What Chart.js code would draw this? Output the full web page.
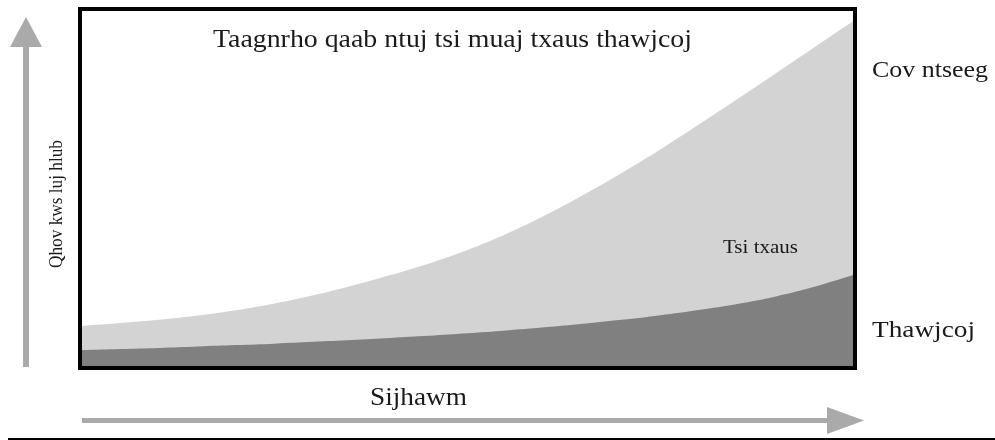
<!DOCTYPE html>
<html>
<head>
<meta charset="utf-8">
<script src="https://cdn.jsdelivr.net/npm/chart.js@4/dist/chart.umd.min.js"></script>
<style>
  html, body { margin: 0; padding: 0; background: #ffffff; }
  #wrap { width: 995px; height: 440px; }
</style>
</head>
<body>
<div id="wrap"><canvas id="growthChart" width="995" height="440"></canvas></div>
<script>
// Time steps along the x axis
const timeSteps = ['0', '1', '2', '3', '4', '5', '6', '7', '8', '9', '10',
                   '11', '12', '13', '14', '15', '16', '17', '18', '19', '20'];

// Total believers (top of the light grey area)
const believers = [11.3, 12.1, 13.0, 14.2, 15.7, 17.6, 19.9, 22.6, 25.6, 28.9, 32.7,
                   37.2, 42.4, 48.2, 54.4, 61.0, 68.0, 75.2, 82.5, 89.8, 97.1];

// Leaders (dark grey area)
const leaders = [4.5, 4.8, 5.1, 5.5, 5.9, 6.3, 6.8, 7.3, 7.9, 8.5, 9.2,
                 10.0, 10.9, 11.9, 13.0, 14.3, 15.8, 17.5, 19.6, 22.3, 25.6];

const serif = '"Liberation Serif", "Times New Roman", serif';
const inkColor = '#1a1a1a';
const arrowColor = '#aaaaaa';

// draw text squeezed/stretched to a measured width
function fitText(ctx, text, left, baseline, size, width) {
    ctx.font = size + 'px ' + serif;
    const w = ctx.measureText(text).width;
    ctx.save();
    ctx.translate(left, baseline);
    ctx.scale(width / w, 1);
    ctx.textAlign = 'left';
    ctx.textBaseline = 'alphabetic';
    ctx.fillText(text, 0, 0);
    ctx.restore();
}

const decorations = {
    id: 'decorations',
    afterDraw(chart) {
        const ctx = chart.ctx;
        const area = chart.chartArea;
        ctx.save();

        // frame around the plot
        ctx.strokeStyle = '#000000';
        ctx.lineWidth = 4;
        ctx.strokeRect(area.left - 2, area.top - 2, area.right - area.left + 4, area.bottom - area.top + 4);

        // vertical arrow
        ctx.fillStyle = arrowColor;
        ctx.fillRect(23, 46, 6, 321);
        ctx.beginPath();
        ctx.moveTo(10, 47);
        ctx.lineTo(42, 47);
        ctx.lineTo(26, 17);
        ctx.closePath();
        ctx.fill();

        // horizontal arrow
        ctx.fillRect(82, 418, 746, 5);
        ctx.beginPath();
        ctx.moveTo(827, 407);
        ctx.lineTo(827, 434);
        ctx.lineTo(864, 420.5);
        ctx.closePath();
        ctx.fill();

        // rule at the bottom
        ctx.fillStyle = '#000000';
        ctx.fillRect(8, 438, 987, 2);

        // texts
        ctx.fillStyle = inkColor;
        fitText(ctx, 'Taagnrho qaab ntuj tsi muaj txaus thawjcoj', 213, 47, 26, 479);
        fitText(ctx, 'Cov ntseeg', 872, 77, 24, 116);
        fitText(ctx, 'Thawjcoj', 872, 337, 24, 103);
        fitText(ctx, 'Tsi txaus', 723, 253, 18, 75);
        fitText(ctx, 'Sijhawm', 370, 405, 26, 97);

        // rotated axis label
        ctx.save();
        ctx.translate(62, 204);
        ctx.rotate(-Math.PI / 2);
        ctx.font = '18px ' + serif;
        const label = 'Qhov kws luj hlub';
        const lw = ctx.measureText(label).width;
        ctx.scale(128 / lw, 1);
        ctx.textAlign = 'center';
        ctx.textBaseline = 'alphabetic';
        ctx.fillText(label, 0, 0);
        ctx.restore();

        ctx.restore();
    }
};

new Chart(document.getElementById('growthChart'), {
    type: 'line',
    data: {
        labels: timeSteps,
        datasets: [{
            label: 'Thawjcoj',
            data: leaders,
            backgroundColor: '#808080',
            borderWidth: 0,
            pointRadius: 0,
            fill: 'origin',
            tension: 0.4
        }, {
            label: 'Cov ntseeg',
            data: believers,
            backgroundColor: '#d3d3d3',
            borderWidth: 0,
            pointRadius: 0,
            fill: 'origin',
            tension: 0.4
        }]
    },
    options: {
        responsive: false,
        animation: false,
        layout: {
            padding: { left: 82, right: 142, top: 11, bottom: 74 }
        },
        plugins: {
            legend: { display: false },
            tooltip: { enabled: false }
        },
        scales: {
            x: { display: false },
            y: { display: false, min: 0, max: 100 }
        }
    },
    plugins: [decorations]
});
</script>
</body>
</html>
